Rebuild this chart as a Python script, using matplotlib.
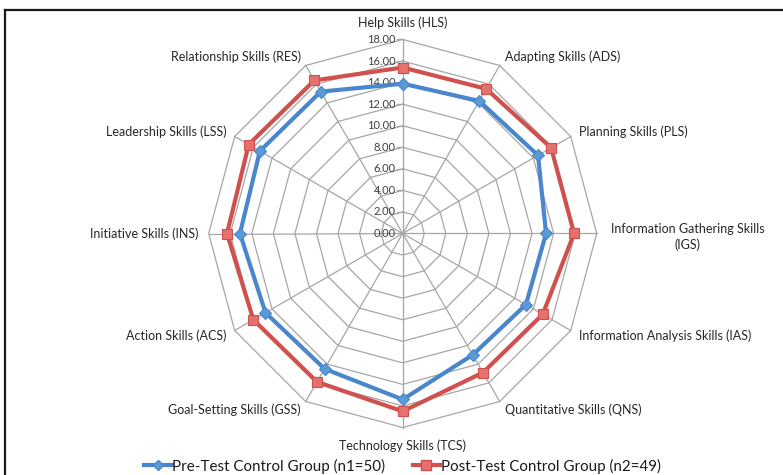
import numpy as np
import matplotlib
matplotlib.use("Agg")
import matplotlib.pyplot as plt
from matplotlib.lines import Line2D

plt.rcParams['font.family'] = ['Lato', 'DejaVu Sans']

categories = [
    "Help Skills (HLS)", "Adapting Skills (ADS)", "Planning Skills (PLS)",
    "Information Gathering Skills\n(IGS)", "Information Analysis Skills (IAS)",
    "Quantitative Skills (QNS)", "Technology Skills (TCS)",
    "Goal-Setting Skills (GSS)", "Action Skills (ACS)", "Initiative Skills (INS)",
    "Leadership Skills (LSS)", "Relationship Skills (RES)",
]
pre_test = [13.9, 14.2, 14.5, 13.3, 13.2, 13.0, 15.4, 14.5, 14.7, 15.1, 15.3, 15.2]
post_test = [15.4, 15.5, 15.9, 15.9, 15.0, 14.9, 16.5, 15.9, 16.0, 16.3, 16.5, 16.4]
series_names = ["Pre-Test Control Group (n1=50)", "Post-Test Control Group (n2=49)"]
rings = [0, 2, 4, 6, 8, 10, 12, 14, 16, 18]
ring_labels = [f"{v:.2f}" for v in rings]

W, H = 783, 475
fig = plt.figure(figsize=(W / 100, H / 100), dpi=100)
ax = fig.add_axes([0, 0, 1, 1])
ax.set_axis_off()

# one data unit = this many pixels; centre of the web in pixels
ppu = 10.778
cx, cy = 402.7, 233.5
ax.set_xlim(-cx / ppu, (W - cx) / ppu)
ax.set_ylim(-(H - cy) / ppu, cy / ppu)
ax.set_aspect('equal')

n = len(categories)
theta = np.arange(n) * 2 * np.pi / n  # clockwise from top


def to_xy(r, t):
    r = np.asarray(r, dtype=float)
    return r * np.sin(t), r * np.cos(t)


grid_color = '#a6a6a6'
rmax = rings[-1]
# polygon rings
for rv in rings[1:]:
    tt = np.append(theta, theta[0])
    x, y = to_xy(np.full(len(tt), rv), tt)
    ax.plot(x, y, color=grid_color, lw=0.9, zorder=1)
# spokes
for t in theta:
    x, y = to_xy([0, rmax], np.array([t, t]))
    ax.plot(x, y, color=grid_color, lw=0.9, zorder=1)

# value ticks on the vertical axis
tick_len = 6 / ppu
for rv, lab in zip(rings, ring_labels):
    ax.plot([-tick_len, 0], [rv, rv], color=grid_color, lw=0.9, zorder=1)
    ax.text(-tick_len - 1 / ppu, rv, lab, ha='right', va='center',
            fontsize=8.0, color='#404040', zorder=2)

# category labels
label_r = 18.9
label_kw = dict(fontsize=9.0, color='#262626')
for lab, t in zip(categories, theta):
    s, c = np.sin(t), np.cos(t)
    if lab.startswith("Information Gathering"):
        ax.text(26.47, -0.32, lab, ha='center', va='center',
                multialignment='center', linespacing=1.25, **label_kw)
        continue
    if c > 0.99:
        ax.text(0, 19.6, lab, ha='center', va='center', **label_kw)
        continue
    if c < -0.99:
        ax.text(0, -19.7, lab, ha='center', va='center', **label_kw)
        continue
    ha = 'left' if s > 0 else 'right'
    ax.text(label_r * s, label_r * c, lab, ha=ha, va='center', **label_kw)

# data series
tt = np.append(theta, theta[0])
blue_line, blue_face = '#4a86cc', '#5b9bd5'
red_line, red_face = '#cf504c', '#e4716d'
px, py = to_xy(np.append(pre_test, pre_test[0]), tt)
ax.plot(px, py, color=blue_line, lw=3.0, marker='D', markersize=6,
        markerfacecolor=blue_face, markeredgecolor=blue_line,
        markeredgewidth=0.8, zorder=4, solid_joinstyle='miter')
qx, qy = to_xy(np.append(post_test, post_test[0]), tt)
ax.plot(qx, qy, color=red_line, lw=3.0, marker='s', markersize=7.5,
        markerfacecolor=red_face, markeredgecolor=red_line,
        markeredgewidth=0.8, zorder=3, solid_joinstyle='miter')

handles = [
    Line2D([], [], color=blue_line, lw=3.0, marker='D', markersize=5.5,
           markerfacecolor=blue_face, markeredgecolor=blue_line),
    Line2D([], [], color=red_line, lw=3.0, marker='s', markersize=6.5,
           markerfacecolor=red_face, markeredgecolor=red_line),
]
fig.legend(handles, series_names, loc='center', ncol=2, frameon=False,
           bbox_to_anchor=(0.514, 1 - 466 / H), fontsize=10.9,
           handlelength=1.8, handletextpad=0.05, columnspacing=1.8,
           labelcolor='#1a1a1a')

# chart frame (top and left edges)
fig.add_artist(Line2D([5 / W, 1], [1 - 10 / H, 1 - 10 / H],
                      transform=fig.transFigure, color='#1a1a1a', lw=1.6))
fig.add_artist(Line2D([5 / W, 5 / W], [0, 1 - 10 / H],
                      transform=fig.transFigure, color='#1a1a1a', lw=1.6))

fig.savefig('out.png', dpi=100, facecolor='white')
